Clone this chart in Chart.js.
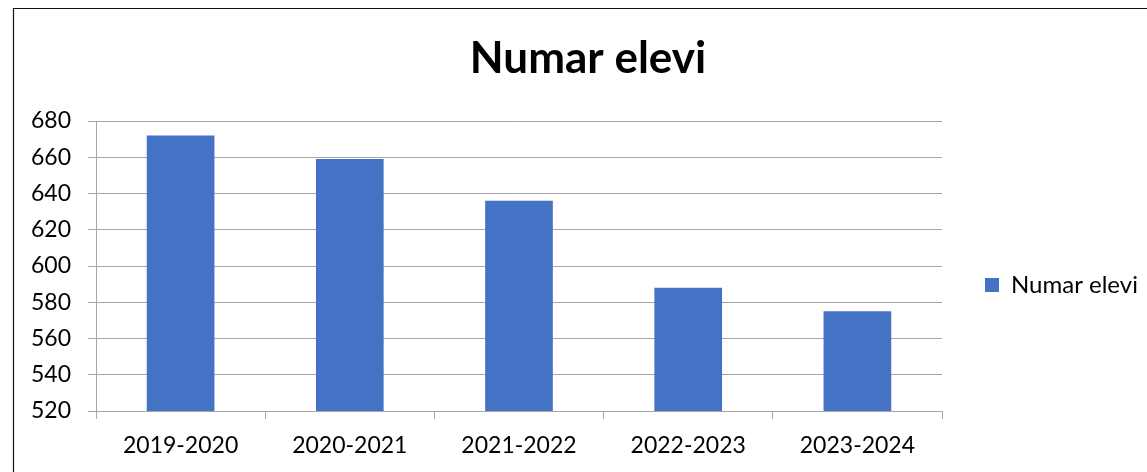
<!DOCTYPE html>
<html>
<head>
<meta charset="utf-8">
<title>Numar elevi</title>
<script src="https://cdn.jsdelivr.net/npm/chart.js@4/dist/chart.umd.min.js"></script>
<style>
  html, body { margin: 0; padding: 0; background: #fff; }
  #wrap { position: relative; width: 1147px; height: 472px; }
</style>
</head>
<body>
<div id="wrap"><canvas id="chart" width="1147" height="472"></canvas></div>
<script>
// date
const categories = ['2019-2020', '2020-2021', '2021-2022', '2022-2023', '2023-2024'];
const elevi = [672, 659, 636, 588, 575];
const yTicks = [520, 540, 560, 580, 600, 620, 640, 660, 680];

const FONT = 'Lato, "Open Sans", sans-serif';
const BLUE = '#4472C4';
const GRID = '#a6a6a6';

// rama graficului (stanga + sus)
const frame = {
  id: 'frame',
  beforeDraw(chart) {
    const c = chart.ctx;
    c.save();
    c.strokeStyle = '#111';
    c.lineWidth = 1.2;
    c.beginPath();
    c.moveTo(13.5, 472);
    c.lineTo(13.5, 8.5);
    c.lineTo(1147, 8.5);
    c.stroke();
    c.restore();
  }
};

// legenda: latime fixa si coborata putin
const legendFix = {
  id: 'legendFix',
  beforeLayout(chart) {
    const lg = chart.legend;
    if (lg && !lg._patched) {
      const fit = lg.fit;
      lg.fit = function () { fit.call(this); this.width = 205; };
      lg._patched = true;
    }
  },
  afterLayout(chart) {
    const lg = chart.legend;
    if (lg) { lg.top += 49; lg.bottom += 49; }
  }
};

new Chart(document.getElementById('chart'), {
  type: 'bar',
  data: {
    labels: categories,
    datasets: [{
      label: 'Numar elevi',
      data: elevi,
      backgroundColor: BLUE,
      borderWidth: 0,
      barPercentage: 0.4,
      categoryPercentage: 1
    }]
  },
  options: {
    responsive: false,
    animation: false,
    devicePixelRatio: 1,
    layout: { padding: { left: 29, right: 0, top: 0, bottom: 0 } },
    plugins: {
      title: {
        display: true,
        text: 'Numar elevi',
        color: '#000',
        font: { family: FONT, size: 44, weight: 'bold' },
        padding: { top: 32, bottom: 36.2 }
      },
      legend: {
        position: 'right',
        labels: {
          color: '#000',
          font: { family: FONT, size: 24 },
          boxWidth: 14,
          boxHeight: 14,
          padding: 43
        }
      },
      tooltip: { enabled: false }
    },
    scales: {
      x: {
        afterFit: s => { s.height = 61; },
        grid: { drawOnChartArea: false, drawTicks: true, tickLength: 8, color: GRID, offset: true },
        border: { color: GRID },
        ticks: { color: '#000', font: { family: FONT, size: 23 }, padding: 13, maxRotation: 0 }
      },
      y: {
        min: 520,
        max: 680,
        afterFit: s => { s.width = 67; },
        afterBuildTicks: s => { s.ticks = yTicks.map(v => ({ value: v })); },
        grid: { color: GRID, tickLength: 8 },
        border: { color: GRID },
        ticks: { color: '#000', font: { family: FONT, size: 23 }, padding: 17 }
      }
    }
  },
  plugins: [frame, legendFix]
});
</script>
</body>
</html>
